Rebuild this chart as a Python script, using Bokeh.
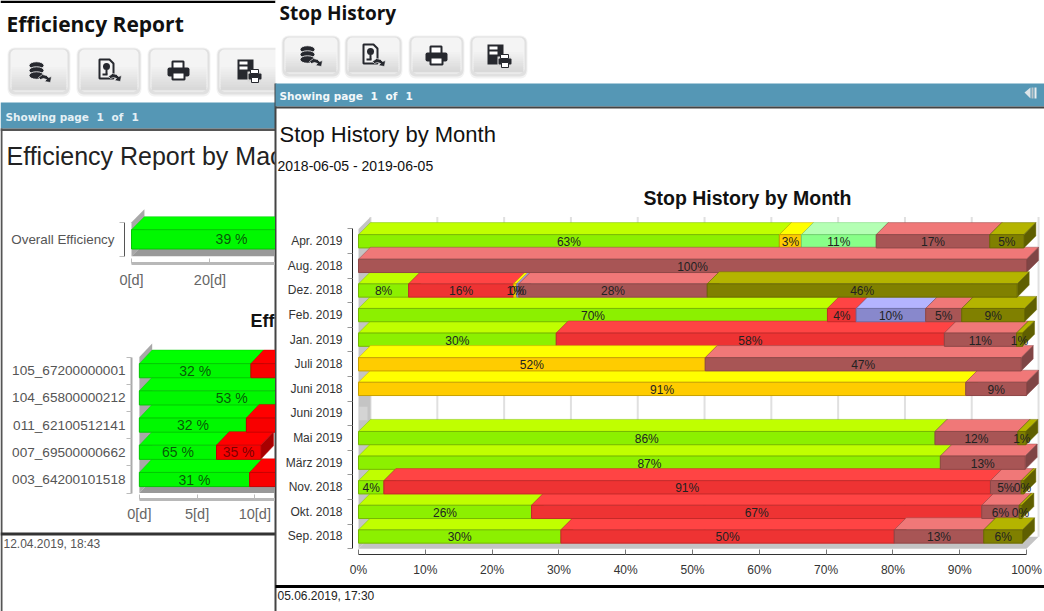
from bokeh.plotting import figure
from bokeh.embed import file_html
from bokeh.resources import INLINE
from bokeh.core.properties import value
from bokeh.models import Range1d, FixedTicker, Title

# ---------- data: Stop History by Month (share of stop time, %) ----------
categories = ["Apr. 2019", "Aug. 2018", "Dez. 2018", "Feb. 2019", "Jan. 2019", "Juli 2018", "Juni 2018",
              "Juni 2019", "Mai 2019", "März 2019", "Nov. 2018", "Okt. 2018", "Sep. 2018"]
lime   = [63.0, 0, 7.5, 70.2, 29.6, 0, 0, 0, 86.3, 87.1, 3.8, 25.9, 30.3]
red    = [0, 0, 15.7, 4.3, 58.1, 0, 0, 0, 0, 0, 90.8, 67.4, 49.9]
yellow = [3.3, 0, 0.5, 0, 0, 51.9, 90.9, 0, 0, 0, 0, 0, 0]
mint   = [11.2, 0, 0, 0, 0, 0, 0, 0, 0, 0, 0, 0, 0]
blue   = [0, 0, 0.3, 10.4, 0, 0, 0, 0, 0, 0, 0, 0, 0]
rose   = [17.0, 100.0, 28.2, 5.4, 10.8, 47.3, 9.1, 0, 12.4, 12.7, 4.6, 5.6, 13.4]
olive  = [5.1, 0, 46.4, 9.4, 0.9, 0, 0, 0, 1.2, 0, 0.4, 0.4, 5.8]
x_ticks = [0, 10, 20, 30, 40, 50, 60, 70, 80, 90, 100]

# ---------- data: Efficiency Report (left window, partly hidden) ----------
overall_label = ["Overall Efficiency"]
overall_good = [51.0]
overall_pct = ["39 %"]
machines = ["105_67200000001", "104_65800000212", "011_62100512141", "007_69500000662", "003_64200101518"]
machine_good = [9.66, 16.0, 9.27, 6.68, 9.55]
machine_bad = [20.5, 14.2, 19.7, 3.83, 21.2]
machine_good_pct = ["32 %", "53 %", "32 %", "65 %", "31 %"]
machine_bad_pct = ["", "", "", "35 %", ""]
overall_ticks = [0, 20, 40]
machine_ticks = [0, 5, 10, 15]

SANS = "Liberation Sans"


def fig(left, top, width, height, xr, yr, **kw):
    f = figure(width=width, height=height, x_range=xr, y_range=yr, output_backend="svg",
               toolbar_location=None, background_fill_color=None, border_fill_color=None,
               outline_line_color=None, styles={"position": "absolute", "left": f"{left}px", "top": f"{top}px"},
               min_border=0, **kw)
    f.grid.visible = False
    return f


# ---------- page chrome ----------
bg = fig(0, 0, 1044, 611, Range1d(0, 1044), Range1d(611, 0))
bg.axis.visible = False
bg.background_fill_color = "white"
bg.border_fill_color = "white"
DARK = "#26282E"


def box(l, t, r, b, color, **kw):
    bg.quad(left=l, right=r, top=t, bottom=b, fill_color=color, line_color=None, **kw)


def txt(x, y, s, size, color="#111111", font=SANS, style="normal", align="left"):
    bg.text(x=[x], y=[y], text=[s], text_font=value(font), text_font_size=size, text_color=color,
            text_font_style=style, text_align=align, text_baseline="middle")


def status(x, y, color):
    # "Showing page  1  of  1": the page's wide gaps are kept by placing each word
    for dx, s in [(0, "Showing page"), (91, "1"), (106, "of"), (126, "1")]:
        txt(x + dx, y, s, "10.5px", color=color, font="DejaVu Sans", style="bold")


def button(l, t, r, b):
    box(l - 3, t - 2, r + 3, b + 5, "#000000", fill_alpha=0.05, border_radius=7)
    box(l - 2, t - 1, r + 2, b + 3, "#000000", fill_alpha=0.07, border_radius=6)
    n = 10
    box(l, t, r, b, "#F4F4F4", border_radius=5)
    for i in range(n):
        c = 244 - 3 * i
        y0 = t + (b - t) * (0.35 + 0.6 * i / n)
        box(l + 1, y0, r - 1, b - 1 if i == n - 1 else y0 + (b - t) * 0.6 / n + 0.5, f"#{c:02X}{c:02X}{c:02X}")


def arrow(cx, cy):
    bg.patches(xs=[[cx - 1, cx + 3, cx + 7, cx + 9, cx + 12, cx + 11, cx + 5, cx + 7, cx + 4, cx + 1]],
               ys=[[cy + 6, cy + 3, cy + 4, cy + 6, cy + 5, cy + 11, cy + 10, cy + 8, cy + 7, cy + 8]],
               fill_color=DARK, line_color="#EEEEEE", line_width=0.7)


def icon_db(cx, cy):
    bg.ellipse(x=[cx - 3] * 3, y=[cy - 6, cy - 1, cy + 4], width=15, height=7.5, fill_color=DARK,
               line_color="white", line_width=0.8)
    arrow(cx, cy)


def icon_doc(cx, cy):
    bg.patches(xs=[[cx - 10, cx, cx + 4, cx + 4, cx - 10]], ys=[[cy - 11, cy - 11, cy - 7, cy + 8, cy + 8]],
               fill_color="#F4F4F4", line_color=DARK, line_width=2)
    bg.ellipse(x=[cx - 3], y=[cy - 4], width=7, height=7, fill_color=DARK, line_color=None)
    bg.quad(left=cx - 4, right=cx - 2, top=cy - 1, bottom=cy + 4, fill_color=DARK, line_color=None)
    bg.quad(left=cx - 7, right=cx - 2, top=cy + 3, bottom=cy + 5, fill_color=DARK, line_color=None)
    arrow(cx, cy)


def icon_printer(cx, cy):
    bg.quad(left=cx - 6, right=cx + 5, top=cy - 9, bottom=cy, fill_color="white", line_color=DARK, line_width=2)
    bg.quad(left=cx - 11, right=cx + 11, top=cy - 3, bottom=cy + 6, fill_color=DARK, line_color=None, border_radius=2)
    bg.quad(left=cx - 6, right=cx + 6, top=cy + 2, bottom=cy + 9, fill_color="white", line_color=DARK, line_width=2)


def icon_docprint(cx, cy):
    bg.quad(left=cx - 11, right=cx + 5, top=cy - 11, bottom=cy + 9, fill_color=DARK, line_color=None)
    bg.quad(left=cx - 9, right=cx - 1, top=cy - 9, bottom=cy - 6, fill_color="white", line_color=None)
    bg.quad(left=cx - 9, right=cx - 1, top=cy - 4, bottom=cy - 1, fill_color="white", line_color=None)
    bg.quad(left=cx - 1, right=cx + 12, top=cy + 1, bottom=cy + 11, fill_color="#D8D8D8", line_color=None)
    bg.quad(left=cx + 2, right=cx + 10, top=cy - 1, bottom=cy + 3, fill_color="white", line_color=DARK)
    bg.quad(left=cx, right=cx + 13, top=cy + 3, bottom=cy + 9, fill_color=DARK, line_color=None, border_radius=1)
    bg.quad(left=cx + 3, right=cx + 10, top=cy + 7, bottom=cy + 12, fill_color="white", line_color=DARK)


# left window
box(0, 0, 275, 2.5, "#000000")
txt(6, 23, "Efficiency Report", "21px", font="Open Sans", style="bold", color="#111111")
for l, r in [(10, 67), (79, 138), (150, 207), (219, 280)]:
    button(l, 49, r, 91)
icon_db(39, 71)
icon_doc(109, 70)
icon_printer(178, 70)
icon_docprint(248, 70)
box(0, 102, 275, 128, "#5597B5")
box(0, 128, 275, 130.5, "#555555")
box(0, 128, 2, 611, "#555555")
box(0, 532, 275, 535, "#333333")
status(5, 116, "#E4F0F5")
txt(6, 155, "Efficiency Report by Machine", "25px", color="#222222")
txt(250, 320, "Efficiency Report by Machine", "18px", color="#111111", style="bold")
txt(3, 543, "12.04.2019, 18:43", "12px", color="#555555")

# right window covers the left one
box(275, 0, 1044, 611, "white")
box(274, 83, 276, 611, "#444444")
txt(279, 12, "Stop History", "19px", font="Open Sans", style="bold", color="#111111")
for l, r in [(284, 337), (347, 399), (411, 461), (472, 524)]:
    button(l, 37, r, 73)
icon_db(310, 55)
icon_doc(373, 55)
icon_printer(436, 55)
icon_docprint(498, 55)
box(275, 83, 1044, 106, "#5597B5")
box(275, 106, 1044, 108, "#444444")
status(279, 95, "#F2F8FA")
bg.patches(xs=[[1024, 1030, 1030]], ys=[[92, 87, 98]], fill_color="#DDE4E8", line_color=None)
box(1031, 87, 1033, 98, "#B8C4CA")
box(1034, 87, 1036, 98, "#E8ECEE")
txt(279, 134, "Stop History by Month", "22px", color="#111111")
txt(277, 165, "2018-06-05 - 2019-06-05", "14px", color="#111111")
box(275, 584.5, 1044, 587.5, "#000000")
txt(277, 595, "05.06.2019, 17:30", "12px", color="#222222")


# ---------- helpers for the 3-D bars ----------
def bars(f, starts, widths, ys, half, dx, dy, front, top, side, edge):
    keep = [i for i, w in enumerate(widths) if w > 0]
    l = [starts[i] for i in keep]
    r = [starts[i] + widths[i] for i in keep]
    y = [ys[i] for i in keep]
    f.patches(xs=[[a, b, b + dx, a + dx] for a, b in zip(l, r)],
              ys=[[c + half, c + half, c + half + dy, c + half + dy] for c in y],
              fill_color=top, line_color=edge, line_alpha=0.45, line_width=1)
    f.patches(xs=[[b, b + dx, b + dx, b] for b in r],
              ys=[[c - half, c - half + dy, c + half + dy, c + half] for c in y],
              fill_color=side, line_color=edge, line_alpha=0.45, line_width=1)
    f.quad(left=l, right=r, top=[c + half for c in y], bottom=[c - half for c in y],
           fill_color=front, line_color=edge, line_width=1)


# ---------- main chart ----------
n_rows = len(categories)
row_y = [n_rows - 1 - i for i in range(n_rows)]
DX, DY, HALF = 1.8, 0.49, 0.27
main = fig(275, 108, 769, 480, Range1d(-0.898, 102.69), Range1d(-0.7317, 13.089),
           min_border_left=77, min_border_top=106, min_border_bottom=34)
main.title = Title(text="Stop History by Month", text_font=SANS, text_font_size="19.5px", text_color="#111111",
                   text_font_style="bold", align="left", offset=291, standoff=12)
xa = main.xaxis[0]
xa.ticker = FixedTicker(ticks=x_ticks)
xa.bounds = (x_ticks[0], x_ticks[-1])
xa.major_label_overrides = {t: f"{t}%" for t in x_ticks}
xa.major_tick_in, xa.major_tick_out, xa.minor_tick_in, xa.minor_tick_out = 5, 0, 0, 0
xa.axis_line_color = "#333333"
xa.major_tick_line_color = "#777777"
xa.major_label_text_font = SANS
xa.major_label_text_font_size = "12px"
xa.major_label_text_color = "#333333"
xa.major_label_standoff = 8
ya = main.yaxis[0]
ya.ticker = FixedTicker(ticks=row_y, minor_ticks=[k - 0.5 for k in range(n_rows + 1)])
ya.bounds = (-0.5, n_rows - 0.5)
ya.major_label_overrides = dict(zip(row_y, categories))
ya.major_tick_in, ya.major_tick_out, ya.minor_tick_in, ya.minor_tick_out = 0, 0, 0, 5
ya.axis_line_color = "#222222"
ya.minor_tick_line_color = "#999999"
ya.major_label_text_font = SANS
ya.major_label_text_font_size = "12px"
ya.major_label_text_color = "#333333"
ya.major_label_standoff = 5

# walls and floor
main.segment(x0=[t + DX for t in x_ticks], x1=[t + DX for t in x_ticks], y0=[-0.5 + DY] * len(x_ticks),
             y1=[n_rows - 0.5 + DY] * len(x_ticks), line_color="#E0E0E0", line_width=2)
main.patches(xs=[[0, DX, DX, 0]], ys=[[-0.5, -0.5 + DY, n_rows - 0.5 + DY, n_rows - 0.5]], fill_color="#C4C4C4", line_color=None)
main.patches(xs=[[0, 100, 100 + DX, DX]], ys=[[-0.5, -0.5, -0.5 + DY, -0.5 + DY]], fill_color="#C4C4C4", line_color=None)
main.quad(left=[0.1], right=[1.35], top=[row_y[7] + HALF], bottom=[row_y[7] - HALF], fill_color="#D4D4D4", line_color=None)

series = [
    (lime, "#8CF000", "#C0FF00", "#6EB800", "#76B800"),
    (red, "#EE3333", "#FF4444", "#B02222", "#C42A2A"),
    (yellow, "#FFCC00", "#FFFF00", "#C09A00", "#C8A000"),
    (mint, "#88FF88", "#B4FFB4", "#66C066", "#70D070"),
    (blue, "#8888CC", "#B4B4FF", "#666699", "#7070AA"),
    (rose, "#A85555", "#F07878", "#7F4545", "#8F4848"),
    (olive, "#808000", "#B4B400", "#5F5F00", "#6A6A00"),
]
cum = [0.0] * n_rows
labels = []
for vals, front, top, side, edge in series:
    bars(main, cum, vals, row_y, HALF, DX, DY, front, top, side, edge)
    for i, v in enumerate(vals):
        if v > 0:
            labels.append((cum[i] + v / 2, row_y[i], f"{int(v + 0.5)}%"))
    cum = [c + v for c, v in zip(cum, vals)]
main.text(x=[a[0] for a in labels], y=[a[1] for a in labels], text=[a[2] for a in labels],
          text_font=value(SANS), text_font_size="12px", text_color="#222222", text_align="center",
          text_baseline="middle", y_offset=1)


# ---------- left charts ----------
def style_left(f, ticks, label_size, standoff, tick_standoff):
    xa = f.xaxis[0]
    xa.ticker = FixedTicker(ticks=ticks)
    xa.major_label_overrides = {t: f"{t}[d]" for t in ticks}
    xa.bounds = (ticks[0], ticks[-1] * 2)
    xa.major_tick_in, xa.major_tick_out, xa.minor_tick_in, xa.minor_tick_out = 5, 0, 0, 0
    xa.axis_line_color = "#B8B8B8"
    xa.axis_line_width = 3
    xa.major_tick_line_color = "#BBBBBB"
    xa.major_label_text_font = SANS
    xa.major_label_text_font_size = "14.5px"
    xa.major_label_text_color = "#666666"
    xa.major_label_standoff = tick_standoff
    ya = f.yaxis[0]
    ya.axis_line_color = "#555555"
    ya.major_tick_in, ya.major_tick_out, ya.minor_tick_in, ya.minor_tick_out = 0, 0, 0, 5
    ya.minor_tick_line_color = "#BBBBBB"
    ya.major_label_text_font = SANS
    ya.major_label_text_font_size = label_size
    ya.major_label_text_color = "#555555"
    ya.major_label_standoff = standoff


# overall efficiency: one row, 3.925 px per day, 0[d] at x=131, row centre at y=240
ov = fig(0, 195, 275, 95, Range1d(-1.78, 36.69), Range1d(-25 / 27, 35 / 27),
         min_border_left=124, min_border_top=10, min_border_bottom=25)
style_left(ov, overall_ticks, "13.4px", 5, 8)
ov.yaxis[0].ticker = FixedTicker(ticks=[0], minor_ticks=[-0.65, 0.65])
ov.yaxis[0].bounds = (-0.65, 0.65)
ov.yaxis[0].major_label_overrides = {0: overall_label[0]}
ov.patches(xs=[[0, 3.3, 3.3, 0]], ys=[[-0.65, -0.15, 1.15, 0.65]], fill_color="#A8A8A8", line_color=None)
ov.patches(xs=[[0, 40, 43.3, 3.3]], ys=[[-0.65, -0.65, -0.15, -0.15]], fill_color="#999999", line_color=None)
bars(ov, [0], overall_good, [0], 0.37, 3.3, 0.5, "#00F800", "#00FF00", "#00A000", "#00C800")
ov.text(x=[overall_good[0] / 2], y=[0], text=overall_pct, text_font=value(SANS), text_font_size="14px",
        text_color="#0A3A0A", text_align="center", text_baseline="middle", text_alpha=0.85)

# machines: 11.73 px per day, 0[d] at x=139, rows 27.2 px apart; frame runs from y=340 to y=499, row 0 centre at y=479
m_y = [4, 3, 2, 1, 0]
mc = fig(0, 330, 275, 200, Range1d(-0.682, 11.79), Range1d(-(499 - 479) / 27.2, (479 - 340) / 27.2),
         min_border_left=131, min_border_top=10, min_border_bottom=31)
style_left(mc, machine_ticks, "13.6px", 1, 6)
mc.yaxis[0].ticker = FixedTicker(ticks=m_y, minor_ticks=[k - 0.5 for k in range(6)])
mc.yaxis[0].bounds = (-0.5, 4.5)
mc.yaxis[0].major_label_overrides = dict(zip(m_y, machines))
mc.yaxis[0].axis_line_color = "#AAAAAA"
mc.yaxis[0].axis_line_width = 2
mc.patches(xs=[[0, 1.11, 1.11, 0]], ys=[[-0.5, 0, 5, 4.5]], fill_color="#A8A8A8", line_color=None)
mc.patches(xs=[[0, 40, 41.1, 1.11]], ys=[[-0.5, -0.5, 0, 0]], fill_color="#999999", line_color=None)
bars(mc, [0] * 5, machine_good, m_y, 0.26, 1.11, 0.5, "#00F800", "#00FF00", "#00A000", "#00C800")
bars(mc, machine_good, machine_bad, m_y, 0.26, 1.11, 0.5, "#F80000", "#FF0000", "#A80000", "#C80000")
mc.text(x=[g / 2 for g in machine_good], y=m_y, text=machine_good_pct, text_font=value(SANS), text_font_size="14px",
        text_color="#0A3A0A", text_align="center", text_baseline="middle", text_alpha=0.85)
mc.text(x=[g + b / 2 for g, b in zip(machine_good, machine_bad)], y=m_y, text=machine_bad_pct, text_font=value(SANS),
        text_font_size="14px", text_color="#660000", text_align="center", text_baseline="middle", text_alpha=0.85)

open("out.html", "w").write(file_html([bg, ov, mc, main], INLINE))
